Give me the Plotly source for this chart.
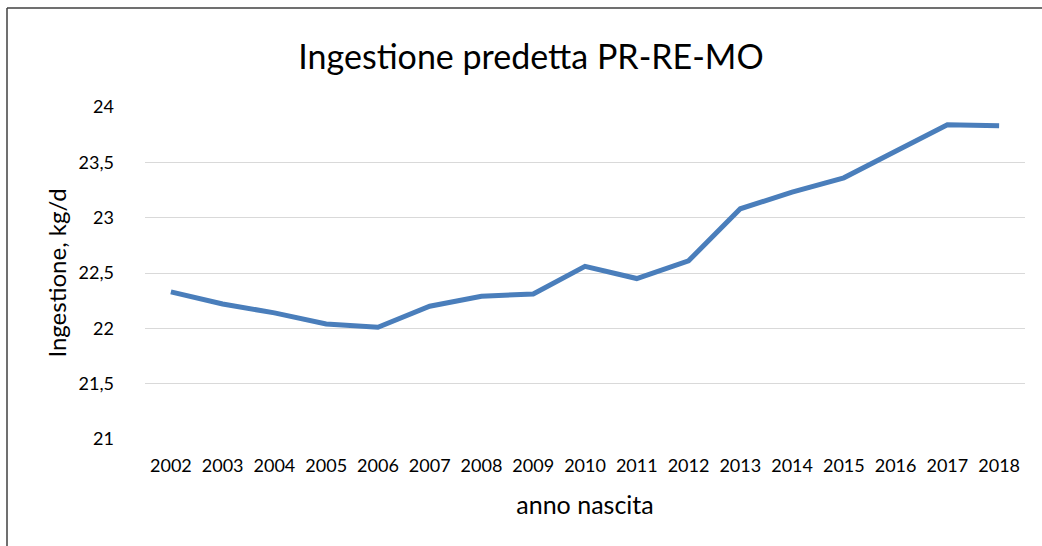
import plotly.graph_objects as go

years = [str(y) for y in range(2002, 2019)]
ingestione = [22.33, 22.22, 22.14, 22.04, 22.01, 22.20, 22.29, 22.31, 22.56,
              22.45, 22.61, 23.08, 23.23, 23.36, 23.60, 23.84, 23.83]
y_ticks = [21, 21.5, 22, 22.5, 23, 23.5, 24]
y_tick_labels = ["21", "21,5", "22", "22,5", "23", "23,5", "24"]

FONT = "Lato, 'Open Sans', sans-serif"

W, H = 1042, 546
L, T, R, B = 145, 107, 1042 - 1025, 546 - 439
pw, ph = W - L - R, H - T - B

fig = go.Figure()
fig.add_trace(go.Scatter(
    x=years, y=ingestione, mode="lines",
    line=dict(color="#4A7EBB", width=5),
    showlegend=False,
))

fig.update_layout(
    width=W, height=H,
    margin=dict(l=L, r=R, t=T, b=B),
    paper_bgcolor="white", plot_bgcolor="white",
    font=dict(family=FONT, color="#000000", size=18),
    title=dict(text="Ingestione predetta PR-RE-MO", x=531 / W, xanchor="center",
               y=1 - 57 / H, yanchor="middle",
               font=dict(family=FONT, size=34, color="#000000")),
    xaxis=dict(
        type="category", range=[-0.5, 16.5], showgrid=False, showline=False,
        zeroline=False, ticks="", tickfont=dict(size=18), ticklabelstandoff=14,
        title=dict(text="anno nascita", font=dict(size=25), standoff=21),
    ),
    yaxis=dict(
        range=[21, 24], tickvals=y_ticks, ticktext=y_tick_labels,
        showgrid=True, gridcolor="#D9D9D9", gridwidth=1.3, zeroline=False,
        showline=False, ticks="", tickfont=dict(size=18), ticklabelstandoff=30,
        title=dict(text="Ingestione, kg/d", font=dict(size=24), standoff=5),
    ),
)

# Chart-area border (only left and top edges are visible in the reference)
bx = (7 - L) / pw
by = 1 + (T - 8) / ph
border = dict(color="#404040", width=1.5)
fig.add_shape(type="line", xref="paper", yref="paper",
              x0=bx, x1=bx, y0=by, y1=-(B + 20) / ph, line=border, layer="below")
fig.add_shape(type="line", xref="paper", yref="paper",
              x0=bx, x1=(W + 20 - L) / pw, y0=by, y1=by, line=border, layer="below")

# remove the default page margin so the figure fills the window exactly
fig.write_html("out.html",
               config={"displayModeBar": False},
               post_script="document.body.style.margin='0';"
                           "document.body.style.overflow='hidden';")
